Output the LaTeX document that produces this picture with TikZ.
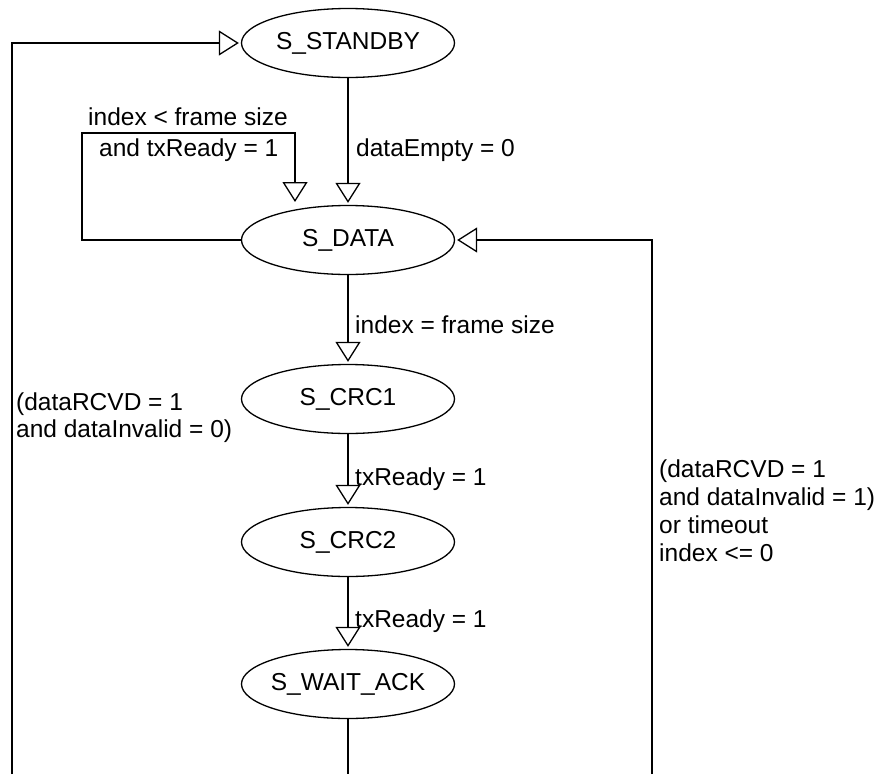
\documentclass[tikz,border=0pt]{standalone}
\usepackage{fontspec}
\setmainfont{Liberation Sans}
\usetikzlibrary{shapes.geometric,arrows.meta}
\newcommand\stlabel[1]{\makebox[0pt]{#1}}
\begin{document}
\begin{tikzpicture}[x=1pt,y=-1pt,
  font=\fontsize{24.5}{27}\selectfont,
  state/.style={ellipse, draw, line width=1.3pt, minimum width=213pt, minimum height=69pt, inner sep=0pt},
  conn/.style={line width=1.3pt},
  tr/.style={conn, shorten >=2pt, -{Triangle[open,length=20pt,width=25pt,line width=1.3pt]}},
  lbl/.style={anchor=base west, inner sep=0pt}]
\useasboundingbox (0,0) rectangle (881,774);
\node[state] (standby) at (348,43) {\stlabel{S\_STANDBY}};
\node[state] (data) at (348,240) {\stlabel{S\_DATA}};
\node[state] (crc1) at (348,399) {\stlabel{S\_CRC1}};
\node[state] (crc2) at (348,542) {\stlabel{S\_CRC2}};
\node[state] (wait) at (348,684) {\stlabel{S\_WAIT\_ACK}};
\coordinate (bl) at (12,774);
\coordinate (bm) at (348,774);
\coordinate (br) at (652,774);
\coordinate (lp1) at (82,133);
\coordinate (lp2) at (295,133);
\coordinate (lp3) at (295,204);
% connectors
\draw[tr] (bl) |- (standby.west);
\draw[tr] (br) |- (data.east);
\draw[conn] (wait.south) -- (bm);
\draw[tr] (standby.south) -- (data.north);
\draw[tr] (data.west) -| (lp1) -- (lp2) -- (lp3);
\draw[tr] (data.south) -- (crc1.north);
\draw[tr] (crc1.south) -- (crc2.north);
\draw[tr] (crc2.south) -- (wait.north);
% labels
\node[lbl] (t1) at (88,125) {index < frame size};
\node[lbl] (t2) at (99,156) {and txReady = 1};
\node[lbl] (t3) at (356,156) {dataEmpty = 0};
\node[lbl] (t4) at (355,333) {index = frame size};
\node[lbl] (t5) at (355,485) {txReady = 1};
\node[lbl] (t6) at (355,627) {txReady = 1};
\node[lbl] (t7) at (16,410) {(dataRCVD = 1};
\node[lbl] (t8) at (16,437) {and dataInvalid = 0)};
\node[lbl] (t9) at (659,477) {(dataRCVD = 1};
\node[lbl] (t10) at (659,505) {and dataInvalid = 1)};
\node[lbl] (t11) at (659,533) {or timeout};
\node[lbl] (t12) at (659,561) {index <= 0};
\end{tikzpicture}
\end{document}
